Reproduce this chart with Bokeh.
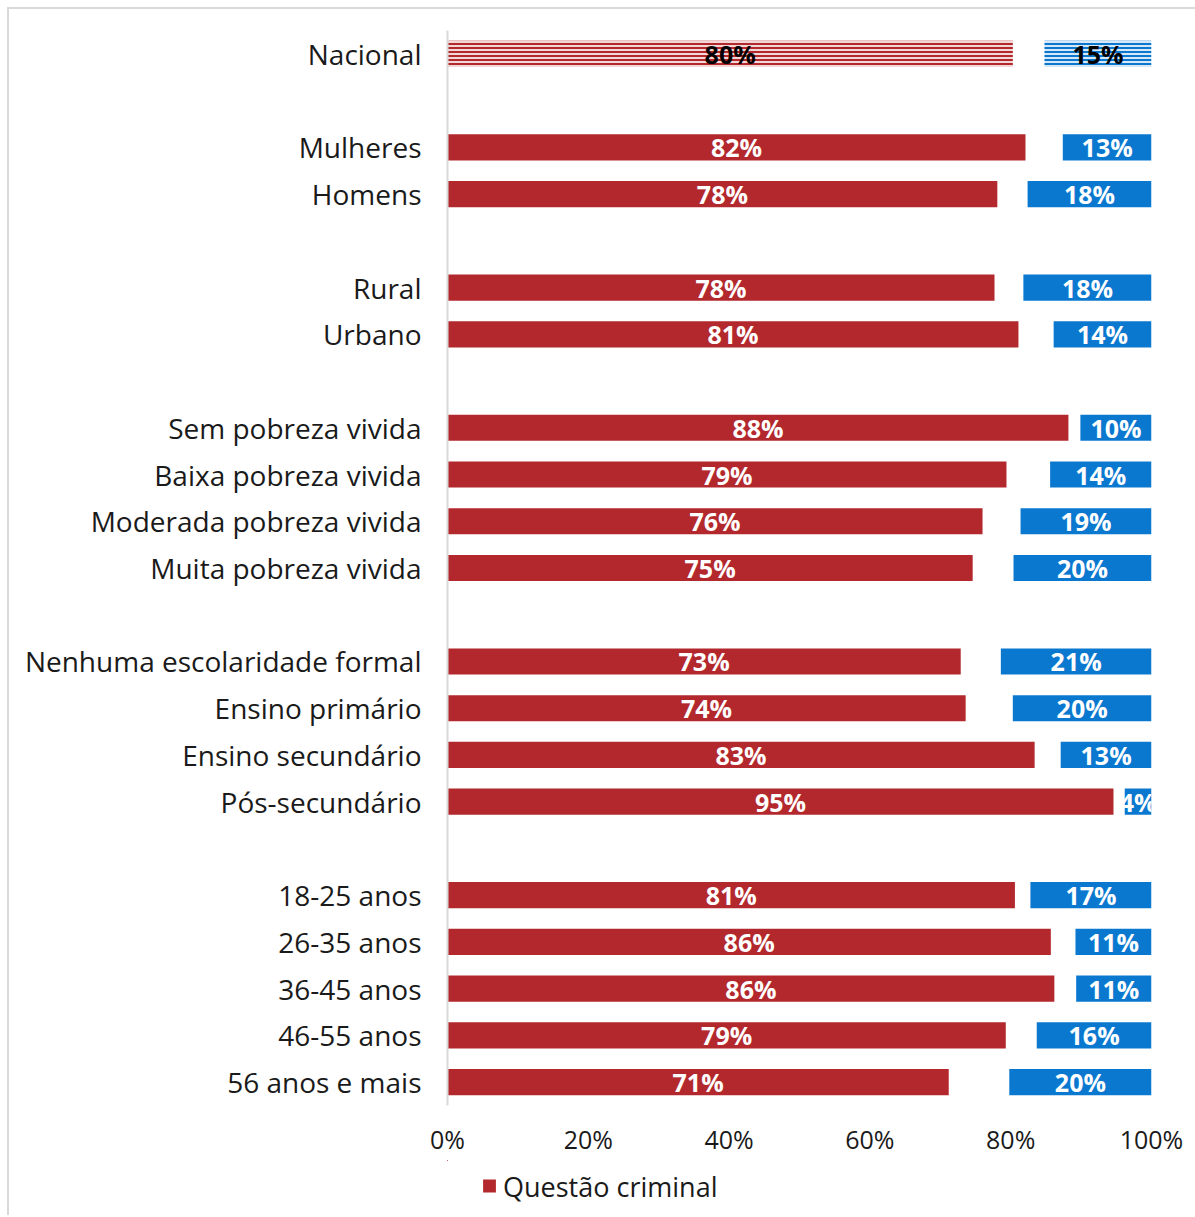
from bokeh.plotting import figure
from bokeh.models import ColumnDataSource, Range1d, FixedTicker, Legend, LegendItem
from bokeh.layouts import column
from bokeh.core.properties import value
from bokeh.embed import file_html
from bokeh.resources import INLINE

groups = [
    ["Nacional"],
    ["Mulheres", "Homens"],
    ["Rural", "Urbano"],
    ["Sem pobreza vivida", "Baixa pobreza vivida", "Moderada pobreza vivida", "Muita pobreza vivida"],
    ["Nenhuma escolaridade formal", "Ensino primário", "Ensino secundário", "Pós-secundário"],
    ["18-25 anos", "26-35 anos", "36-45 anos", "46-55 anos", "56 anos e mais"],
]
criminal = [80.3, 82.1, 78.1, 77.7, 81.1, 88.2, 79.4, 76.0, 74.6, 72.9, 73.6, 83.4, 94.6, 80.6, 85.7, 86.2, 79.3, 71.2]
other = [15.2, 12.6, 17.6, 18.2, 13.9, 10.1, 14.4, 18.6, 19.6, 21.4, 19.7, 12.9, 3.8, 17.2, 10.8, 10.7, 16.3, 20.2]
xticks = [0, 20, 40, 60, 80, 100]
legend_label = "Questão criminal"

RED = "#B3282D"
BLUE = "#0B78D0"
FONT = "Open Sans"

cats, ys = [], []
pos = 0
for gi, g in enumerate(groups):
    for c in g:
        cats.append(c)
        ys.append(pos)
        pos += 1
    pos += 1
nslots = pos - 1

W = 1186
OX, OY = 9, 9
H1 = 1160 - OY
p = figure(width=W, height=H1, output_backend="svg", toolbar_location=None,
           x_range=Range1d(0, 100), y_range=Range1d(nslots - 0.5, -0.5),
           min_border_left=447 - OX, min_border_right=W - (1151 - OX), min_border_top=30 - OY,
           min_border_bottom=H1 - (1105 - OY))
p.outline_line_color = None
p.xgrid.visible = False
p.ygrid.visible = False


def mk(sl):
    return ColumnDataSource(dict(
        y=ys[sl], r=criminal[sl], ostart=[100 - v for v in other[sl]],
        rmid=[v / 2 for v in criminal[sl]], omid=[100 - v / 2 for v in other[sl]],
        rl=[f"{round(v)}%" for v in criminal[sl]], ol=[f"{round(v)}%" for v in other[sl]]))


main = mk(slice(1, None))
nat = mk(slice(0, 1))

bh = 0.56
p.hbar(y="y", left=0, right="r", height=bh, source=main, fill_color=RED, line_color=None)
p.hbar(y="y", left="ostart", right=100, height=bh, source=main, fill_color=BLUE, line_color=None)
p.hbar(y="y", left=0, right="r", height=bh, source=nat, fill_color="#f3d6d6", line_color=None,
       hatch_pattern="horizontal_line", hatch_color=RED, hatch_scale=4, hatch_weight=2)
p.hbar(y="y", left="ostart", right=100, height=bh, source=nat, fill_color="#d6e8f8", line_color=None,
       hatch_pattern="horizontal_line", hatch_color=BLUE, hatch_scale=4, hatch_weight=2)

for src, col in ((main, "white"), (nat, "black")):
    for xcol, tcol in (("rmid", "rl"), ("omid", "ol")):
        p.text(x=xcol, y="y", text=tcol, source=src, text_color=col, text_font=value(FONT),
               text_font_style="bold", text_font_size="25px", text_align="center",
               text_baseline="middle", y_offset=0)

p.yaxis.ticker = FixedTicker(ticks=ys)
p.yaxis.major_label_overrides = {y: c for y, c in zip(ys, cats)}
p.yaxis.major_tick_line_color = None
p.yaxis.minor_tick_line_color = None
p.yaxis.axis_line_color = "#d9d9d9"
p.yaxis.axis_line_width = 2
p.yaxis.major_label_standoff = 20
p.yaxis.major_label_text_font = FONT
p.yaxis.major_label_text_font_size = "28px"
p.yaxis.major_label_text_color = "#1a1a1a"

p.xaxis.ticker = FixedTicker(ticks=xticks)
p.xaxis.major_label_overrides = {t: f"{t}%" for t in xticks}
p.xaxis.axis_line_color = None
p.xaxis.major_tick_line_color = None
p.xaxis.minor_tick_line_color = None
p.xaxis.major_label_standoff = 10
p.xaxis.major_label_text_font = FONT
p.xaxis.major_label_text_font_size = "25px"
p.xaxis.major_label_text_color = "#1a1a1a"

# legend in its own strip below the chart (the series is kept out of view there;
# the column layout aligns this strip's frame with the chart's frame)
H2 = 1217 - 1160 - 2
lg = figure(width=W, height=H2, output_backend="svg", toolbar_location=None,
            x_axis_location=None, y_axis_location=None,
            x_range=Range1d(1000, 1100), y_range=Range1d(-10, -9),
            min_border_left=447 - OX, min_border_right=W - (1151 - OX),
            min_border_top=0, min_border_bottom=4)
lg.grid.visible = False
lg.outline_line_color = None
lr = lg.hbar(y="y", left=0, right="r", height=bh, source=main, fill_color=RED, line_color=None)
legend = Legend(items=[LegendItem(label=legend_label, renderers=[lr])],
                orientation="horizontal", location="center_left",
                label_text_font=FONT, label_text_font_size="27px", label_text_color="#1a1a1a",
                glyph_width=16, glyph_height=16, border_line_color=None, background_fill_alpha=0,
                padding=0, margin=34, label_standoff=6)
lg.add_layout(legend)

layout = column(p, lg, spacing=0)
layout.styles = {"margin-left": "7px", "margin-top": "7px",
                 "border-left": "2px solid #d9d9d9", "border-top": "2px solid #d9d9d9"}

open("out.html", "w").write(file_html(layout, INLINE))
